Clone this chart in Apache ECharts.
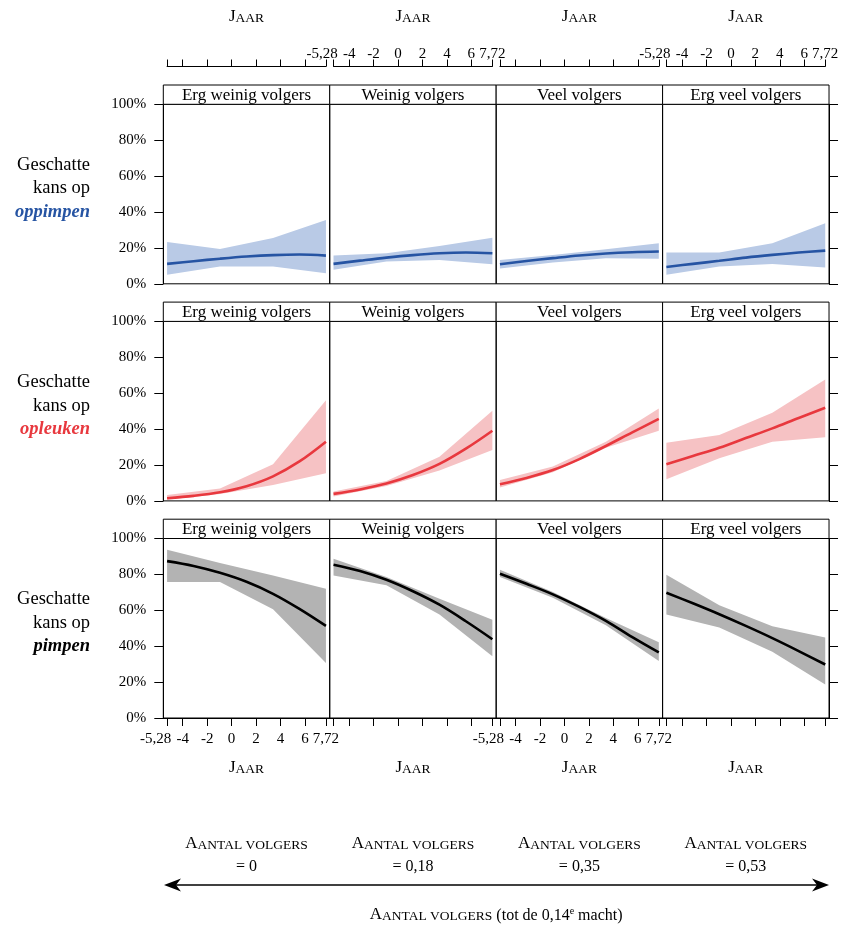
<!DOCTYPE html>
<html><head><meta charset="utf-8">
<script src="https://cdn.jsdelivr.net/npm/echarts@6/dist/echarts.min.js"></script>
<style>html,body{margin:0;padding:0;background:#fff}#c{width:845px;height:930px}</style>
</head><body><div id="c"></div>
<script>
// ---------- data ----------
const columnTitles = ['Erg weinig volgers', 'Weinig volgers', 'Veel volgers', 'Erg veel volgers'];
const followerValues = ['0', '0,18', '0,35', '0,53'];
const rowOutcomes = ['oppimpen', 'opleuken', 'pimpen'];
const xPoints = [-5.28, -3.11, -0.95, 1.22, 3.39, 5.55, 7.72];
const bandX = [-5.28, -0.95, 3.39, 7.72];
const xTicks = [-5.28, -4, -2, 0, 2, 4, 6, 7.72];
const yTicks = [0, 20, 40, 60, 80, 100];

const oppimpenFit = [
  [11.1, 12.6, 14.0, 15.2, 16.0, 16.3, 15.7],
  [11.1, 12.9, 14.6, 16.0, 17.0, 17.4, 17.0],
  [10.9, 12.7, 14.3, 15.8, 16.9, 17.6, 18.0],
  [9.4, 11.1, 12.8, 14.6, 16.1, 17.4, 18.5]
];
const oppimpenLower = [
  [5.0, 9.6, 9.6, 5.9],
  [7.8, 12.4, 13.3, 10.9],
  [8.5, 11.9, 14.3, 13.9],
  [5.0, 9.6, 11.1, 9.1]
];
const oppimpenUpper = [
  [23.3, 19.4, 25.5, 35.6],
  [15.7, 17.0, 21.1, 25.6],
  [13.3, 16.1, 19.3, 22.6],
  [17.4, 17.4, 22.6, 33.7]
];

const opleukenFit = [
  [1.5, 2.8, 4.8, 8.2, 13.7, 22.0, 33.0],
  [3.9, 6.4, 9.7, 14.4, 20.6, 29.1, 39.1],
  [9.3, 12.8, 17.2, 23.3, 30.6, 38.2, 45.7],
  [20.4, 25.0, 29.6, 35.0, 40.4, 46.2, 51.9]
];
const opleukenLower = [
  [0.6, 3.9, 8.9, 15.4],
  [2.4, 8.3, 16.9, 28.3],
  [7.4, 15.9, 29.6, 39.1],
  [12.0, 23.7, 33.0, 35.4]
];
const opleukenUpper = [
  [3.3, 6.9, 20.4, 56.1],
  [5.2, 11.1, 24.6, 50.2],
  [11.7, 19.1, 33.0, 51.5],
  [32.4, 36.7, 49.1, 67.6]
];

const pimpenFit = [
  [87.4, 84.7, 80.9, 75.9, 69.2, 60.8, 51.3],
  [85.4, 81.9, 77.0, 70.6, 63.1, 53.9, 43.9],
  [80.4, 74.8, 68.9, 61.9, 54.1, 45.0, 36.5],
  [69.8, 63.9, 57.8, 51.3, 44.5, 37.3, 29.8]
];
const pimpenLower = [
  [75.7, 75.7, 60.6, 30.7],
  [79.4, 73.9, 57.6, 34.4],
  [78.5, 67.0, 51.7, 31.7],
  [57.6, 50.4, 36.9, 18.7]
];
const pimpenUpper = [
  [93.7, 86.3, 79.4, 72.0],
  [88.7, 78.5, 66.5, 54.8],
  [82.6, 70.2, 55.7, 42.2],
  [79.8, 62.8, 51.1, 44.8]
];

// ---------- styles / layout ----------
const FONT = 'Liberation Serif';
const rowStyles = [
  { line: '#2654a3', band: '#b9cae6', label: '#2654a3' },
  { line: '#e8383e', band: '#f6c2c4', label: '#e8383e' },
  { line: '#000000', band: '#b3b3b3', label: '#000000' }
];
const rowData = [
  [oppimpenFit, oppimpenLower, oppimpenUpper],
  [opleukenFit, opleukenLower, opleukenUpper],
  [pimpenFit, pimpenLower, pimpenUpper]
];
const PL = 163.3, PW = 166.43, RT = 104.3, RS = 217.1, PH = 179.5, SH = 19.3;
const XMIN = -5.59, XMAX = 8.03;
const XFIRST = xTicks[0], XLAST = xTicks[xTicks.length - 1];
const PXU = PW / (XMAX - XMIN);

const scRich = {
  cap: { fontFamily: FONT, fontSize: 17, color: '#000', verticalAlign: 'bottom' },
  sc: { fontFamily: FONT, fontSize: 13.5, color: '#000', verticalAlign: 'bottom' },
  n: { fontFamily: FONT, fontSize: 16, color: '#000', verticalAlign: 'bottom' },
  sup: { fontFamily: FONT, fontSize: 10, color: '#000', verticalAlign: 'top' }
};
const fmtX = v => {
  const s = String(v).replace('.', ',');
  return Math.abs(v + 5.28) < 1e-6 ? '{sh|' + s + '}' : '{t|' + s + '}';
};
const xLabelRich = {
  t: { fontFamily: FONT, fontSize: 15, color: '#000' },
  sh: { fontFamily: FONT, fontSize: 15, color: '#000', padding: [0, 23, 0, 0] }
};

const grid = [], xAxis = [], yAxis = [], series = [], graphic = [];

for (let r = 0; r < 3; r++) {
  for (let c = 0; c < 4; c++) {
    const g = r * 4 + c;
    const left = PL + c * PW, top = RT + r * RS;
    grid.push({ left: left, top: top, width: PW, height: PH, show: true,
      borderColor: '#000', borderWidth: 1, backgroundColor: 'transparent', outerBoundsMode: 'none' });
    const bottom = r === 2;
    xAxis.push({
      type: 'value', gridIndex: g, min: XMIN, max: XMAX, position: 'bottom',
      axisLine: { show: bottom, onZero: false, lineStyle: { color: '#000', width: 1 } },
      axisTick: { show: bottom, customValues: xTicks, length: 8, lineStyle: { color: '#000', width: 1 } },
      axisLabel: { show: bottom && c % 2 === 0, customValues: xTicks, formatter: fmtX, margin: 14, rich: xLabelRich },
      splitLine: { show: false },
      name: bottom ? '{cap|J}{sc|AAR}' : '', nameLocation: 'middle', nameGap: 41,
      nameTextStyle: { rich: scRich }
    });
    yAxis.push({
      type: 'value', gridIndex: g, min: 0, max: 100, interval: 20,
      position: c === 3 ? 'right' : 'left',
      show: c === 0 || c === 3,
      axisLine: { show: true, onZero: false, lineStyle: { color: '#000', width: 1 } },
      axisTick: { show: true, customValues: yTicks, length: 9, lineStyle: { color: '#000', width: 1 } },
      axisLabel: { show: c === 0, customValues: yTicks, formatter: '{value}%', margin: 17,
        fontFamily: FONT, fontSize: 15, color: '#000' },
      splitLine: { show: false }
    });
    const [fit, lower, upper] = rowData[r];
    const lo = lower[c], up = upper[c], st = rowStyles[r];
    series.push({
      type: 'custom', xAxisIndex: g, yAxisIndex: g, z: 2,
      data: bandX.map((x, i) => [x, lo[i], up[i]]),
      renderItem: (params, api) => {
        if (params.dataIndex !== 0) return null;
        const pts = [];
        for (let i = 0; i < bandX.length; i++) pts.push(api.coord([bandX[i], up[i]]));
        for (let i = bandX.length - 1; i >= 0; i--) pts.push(api.coord([bandX[i], lo[i]]));
        return { type: 'polygon', shape: { points: pts }, style: { fill: st.band } };
      }
    });
    series.push({
      type: 'line', xAxisIndex: g, yAxisIndex: g, z: 3,
      data: xPoints.map((x, i) => [x, fit[c][i]]),
      smooth: 0.35, symbol: 'none',
      lineStyle: { color: st.line, width: 2.6 }
    });
    // strip
    graphic.push({ type: 'rect', shape: { x: left, y: top - SH, width: PW, height: SH },
      style: { fill: '#fff', stroke: '#000', lineWidth: 1 }, z: 10 });
    graphic.push({ type: 'text', x: left + PW / 2, y: top - SH / 2 + 0.5, z: 11,
      style: { text: columnTitles[c], fontFamily: FONT, fontSize: 17, fill: '#000', align: 'center', verticalAlign: 'middle' } });
  }
}

// top axes (separate thin grids spanning first to last tick)
for (let c = 0; c < 4; c++) {
  const g = 12 + c;
  grid.push({ left: PL + c * PW + (XFIRST - XMIN) * PXU, top: 66.5, width: (XLAST - XFIRST) * PXU, height: 1,
    show: false, outerBoundsMode: 'none' });
  xAxis.push({
    type: 'value', gridIndex: g, min: XFIRST, max: XLAST, position: 'top',
    axisLine: { show: true, onZero: false, lineStyle: { color: '#000', width: 1 } },
    axisTick: { show: true, customValues: xTicks, length: 7, lineStyle: { color: '#000', width: 1 } },
    axisLabel: { show: c % 2 === 1, customValues: xTicks, formatter: fmtX, margin: 5, rich: xLabelRich },
    splitLine: { show: false },
    name: '{cap|J}{sc|AAR}', nameLocation: 'middle', nameGap: 41,
    nameTextStyle: { rich: scRich }
  });
  yAxis.push({ type: 'value', gridIndex: g, show: false, min: 0, max: 1 });
}

// row labels
for (let r = 0; r < 3; r++) {
  const cy = RT + r * RS + PH / 2 - 5.5;
  graphic.push({ type: 'text', x: 90, y: cy, z: 11,
    style: {
      text: '{n|Geschatte}\n{n|kans op}\n{b|' + rowOutcomes[r] + '}',
      align: 'right', verticalAlign: 'middle',
      rich: {
        n: { fontFamily: FONT, fontSize: 18.5, fill: '#000', color: '#000', lineHeight: 23.5, align: 'right' },
        b: { fontFamily: FONT, fontSize: 18.5, fontStyle: 'italic', fontWeight: 'bold',
             fill: rowStyles[r].label, color: rowStyles[r].label, lineHeight: 23.5, align: 'right' }
      }
    } });
}

// bottom follower labels
for (let c = 0; c < 4; c++) {
  const cx = PL + c * PW + PW / 2;
  graphic.push({ type: 'text', x: cx, y: 844, z: 11,
    style: { text: '{cap|A}{sc|ANTAL VOLGERS}', rich: scRich, align: 'center', verticalAlign: 'middle' } });
  graphic.push({ type: 'text', x: cx, y: 867, z: 11,
    style: { text: '= ' + followerValues[c], fontFamily: FONT, fontSize: 16, fill: '#000', align: 'center', verticalAlign: 'middle' } });
}
// arrow
const AY = 885, AX0 = 164, AX1 = 829;
graphic.push({ type: 'line', shape: { x1: AX0 + 8, y1: AY, x2: AX1 - 8, y2: AY }, style: { stroke: '#000', lineWidth: 1.3 } });
graphic.push({ type: 'polygon', shape: { points: [[AX0, AY], [AX0 + 17, AY - 6.5], [AX0 + 12, AY], [AX0 + 17, AY + 6.5]] }, style: { fill: '#000' } });
graphic.push({ type: 'polygon', shape: { points: [[AX1, AY], [AX1 - 17, AY - 6.5], [AX1 - 12, AY], [AX1 - 17, AY + 6.5]] }, style: { fill: '#000' } });
graphic.push({ type: 'text', x: (PL + PL + 4 * PW) / 2, y: 915, z: 11,
  style: { text: '{cap|A}{sc|ANTAL VOLGERS}{n| (tot de 0,14}{sup|e}{n| macht)}', rich: scRich, align: 'center', verticalAlign: 'middle' } });

const chart = echarts.init(document.getElementById('c'), null, { renderer: 'canvas' });
chart.setOption({
  animation: false,
  backgroundColor: '#fff',
  textStyle: { fontFamily: FONT, color: '#000' },
  grid, xAxis, yAxis, series, graphic
});
</script></body></html>
